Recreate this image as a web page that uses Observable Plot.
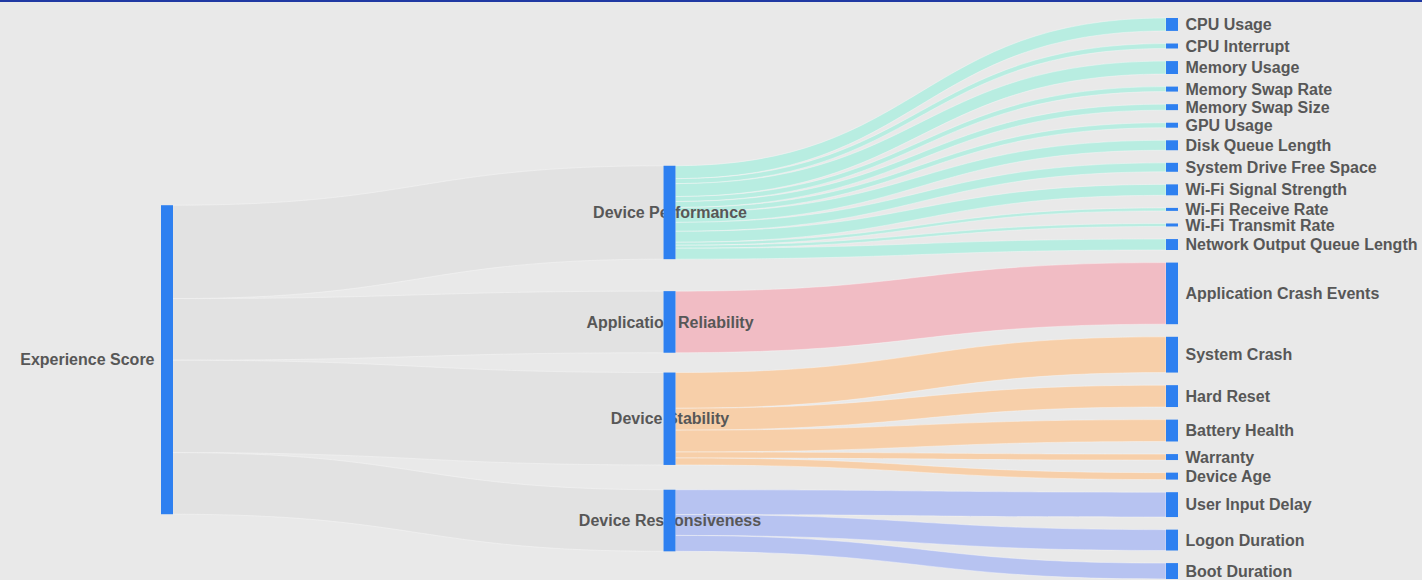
<!DOCTYPE html>
<html>
<head>
<meta charset="utf-8">
<script src="https://cdn.jsdelivr.net/npm/d3@7"></script>
<script src="https://cdn.jsdelivr.net/npm/@observablehq/plot@0.6"></script>
<style>
  html, body { margin: 0; padding: 0; background: #e9e9e9; overflow: hidden; }
  #topline { position: absolute; left: 0; top: 0; width: 1422px; height: 2px; background: #2039a3; z-index: 2; }
  #chart { position: absolute; left: 0; top: 0; }
</style>
</head>
<body>
<div id="topline"></div>
<div id="chart"></div>
<script>
// ---- data ----
const rootName = "Experience Score";
const categories = ["Device Performance", "Application Reliability", "Device Stability", "Device Responsiveness"];
const metricNames = [
  "CPU Usage", "CPU Interrupt", "Memory Usage", "Memory Swap Rate", "Memory Swap Size", "GPU Usage",
  "Disk Queue Length", "System Drive Free Space", "Wi-Fi Signal Strength", "Wi-Fi Receive Rate",
  "Wi-Fi Transmit Rate", "Network Output Queue Length",
  "Application Crash Events",
  "System Crash", "Hard Reset", "Battery Health", "Warranty", "Device Age",
  "User Input Delay", "Logon Duration", "Boot Duration"
];
const metricCategory = [
  "Device Performance", "Device Performance", "Device Performance", "Device Performance", "Device Performance", "Device Performance",
  "Device Performance", "Device Performance", "Device Performance", "Device Performance",
  "Device Performance", "Device Performance",
  "Application Reliability",
  "Device Stability", "Device Stability", "Device Stability", "Device Stability", "Device Stability",
  "Device Responsiveness", "Device Responsiveness", "Device Responsiveness"
];
const metricValues = [
  13, 5, 13, 5, 6, 5,
  10, 9, 11, 3,
  3, 11,
  62,
  36, 22, 22, 6, 7,
  25, 21, 16
];

// ---- graph ----
const nodes = [{name: rootName}, ...categories.map(name => ({name})), ...metricNames.map(name => ({name}))];
const links = [
  ...categories.map(c => ({
    source: rootName, target: c, cat: rootName,
    value: d3.sum(metricValues.filter((v, i) => metricCategory[i] === c))
  })),
  ...metricNames.map((m, i) => ({source: metricCategory[i], target: m, cat: metricCategory[i], value: metricValues[i]}))
];

// ---- sankey layout (port of d3-sankey relaxation, padding per column) ----
function sankeyLayout(nodes, links, {x0, x1, y0, y1, dx, pads, iterations}) {
  const pad = layer => pads[layer];
  const byName = new Map();
  nodes.forEach((n, i) => { n.index = i; n.sourceLinks = []; n.targetLinks = []; byName.set(n.name, n); });
  links.forEach((l, i) => {
    l.index = i; l.source = byName.get(l.source); l.target = byName.get(l.target);
    l.source.sourceLinks.push(l); l.target.targetLinks.push(l);
  });
  nodes.forEach(n => n.value = Math.max(d3.sum(n.sourceLinks, l => l.value), d3.sum(n.targetLinks, l => l.value)));
  let cur = nodes.filter(n => n.targetLinks.length === 0), depth = 0;
  while (cur.length) {
    const next = new Set();
    for (const n of cur) { n.depth = depth; for (const l of n.sourceLinks) next.add(l.target); }
    cur = [...next]; depth++;
  }
  const nLayers = depth;
  nodes.forEach(n => n.layer = n.sourceLinks.length ? n.depth : nLayers - 1);
  const columns = d3.range(nLayers).map(() => []);
  nodes.forEach(n => columns[n.layer].push(n));
  const kx = (x1 - x0 - dx) / (nLayers - 1);
  nodes.forEach(n => { n.x0 = x0 + n.layer * kx; n.x1 = n.x0 + dx; });
  const ky = d3.min(columns, (c, k) => (y1 - y0 - (c.length - 1) * pad(k)) / d3.sum(c, n => n.value));

  const byY = (a, b) => a.y0 - b.y0;
  const ascT = (a, b) => byY(a.target, b.target) || a.index - b.index;
  const ascS = (a, b) => byY(a.source, b.source) || a.index - b.index;
  function reorderLinks(col) { for (const n of col) { n.sourceLinks.sort(ascT); n.targetLinks.sort(ascS); } }
  function reorderNodeLinks(n) {
    for (const {source} of n.targetLinks) source.sourceLinks.sort(ascT);
    for (const {target} of n.sourceLinks) target.targetLinks.sort(ascS);
  }
  function targetTop(source, target) {
    const py = pad(target.layer);
    let y = source.y0 - (source.sourceLinks.length - 1) * py / 2;
    for (const {target: node, width} of source.sourceLinks) { if (node === target) break; y += width + py; }
    for (const {source: node, width} of target.targetLinks) { if (node === source) break; y -= width; }
    return y;
  }
  function sourceTop(source, target) {
    const py = pad(source.layer);
    let y = target.y0 - (target.targetLinks.length - 1) * py / 2;
    for (const {source: node, width} of target.targetLinks) { if (node === source) break; y += width + py; }
    for (const {target: node, width} of source.sourceLinks) { if (node === target) break; y -= width; }
    return y;
  }
  function topToBottom(col, y, i, a, py) {
    for (; i < col.length; ++i) { const n = col[i]; const d = (y - n.y0) * a; if (d > 1e-6) { n.y0 += d; n.y1 += d; } y = n.y1 + py; }
  }
  function bottomToTop(col, y, i, a, py) {
    for (; i >= 0; --i) { const n = col[i]; const d = (n.y1 - y) * a; if (d > 1e-6) { n.y0 -= d; n.y1 -= d; } y = n.y0 - py; }
  }
  function resolveCollisions(col, a, py) {
    const i = col.length >> 1, s = col[i];
    bottomToTop(col, s.y0 - py, i - 1, a, py);
    topToBottom(col, s.y1 + py, i + 1, a, py);
    bottomToTop(col, y1, col.length - 1, a, py);
    topToBottom(col, y0, 0, a, py);
  }
  function relaxLeftToRight(alpha, beta) {
    for (let i = 1; i < columns.length; ++i) {
      const col = columns[i];
      for (const t of col) {
        let y = 0, w = 0;
        for (const l of t.targetLinks) { const v = l.value * (t.layer - l.source.layer); y += targetTop(l.source, t) * v; w += v; }
        if (!(w > 0)) continue;
        const d = (y / w - t.y0) * alpha; t.y0 += d; t.y1 += d; reorderNodeLinks(t);
      }
      resolveCollisions(col, beta, pad(i));
    }
  }
  function relaxRightToLeft(alpha, beta) {
    for (let i = columns.length - 2; i >= 0; --i) {
      const col = columns[i];
      for (const s of col) {
        let y = 0, w = 0;
        for (const l of s.sourceLinks) { const v = l.value * (l.target.layer - s.layer); y += sourceTop(s, l.target) * v; w += v; }
        if (!(w > 0)) continue;
        const d = (y / w - s.y0) * alpha; s.y0 += d; s.y1 += d; reorderNodeLinks(s);
      }
      resolveCollisions(col, beta, pad(i));
    }
  }
  columns.forEach((c, k) => {
    const py = pad(k);
    let y = y0;
    for (const n of c) { n.y0 = y; n.y1 = y + n.value * ky; y = n.y1 + py; for (const l of n.sourceLinks) l.width = l.value * ky; }
    y = (y1 - y + py) / (c.length + 1);
    c.forEach((n, i) => { n.y0 += y * (i + 1); n.y1 += y * (i + 1); });
    reorderLinks(c);
  });
  for (let i = 0; i < iterations; ++i) {
    const alpha = Math.pow(0.99, i), beta = Math.max(1 - alpha, (i + 1) / iterations);
    relaxRightToLeft(alpha, beta);
    relaxLeftToRight(alpha, beta);
  }
  for (const n of nodes) {
    let a = n.y0, b = n.y0;
    for (const l of n.sourceLinks) { l.y0 = a + l.width / 2; a += l.width; }
    for (const l of n.targetLinks) { l.y1 = b + l.width / 2; b += l.width; }
  }
  return columns;
}

const W = 1422, H = 580;
const columns = sankeyLayout(nodes, links, {x0: 161, x1: 1178, y0: 18, y1: 579, dx: 12, pads: [12.6, 18, 12.6], iterations: 32});

const linkRows = links.flatMap(l => [
  {id: l.index, cat: l.cat, x: l.source.x1, top: l.y0 - l.width / 2, bottom: l.y0 + l.width / 2},
  {id: l.index, cat: l.cat, x: l.target.x0, top: l.y1 - l.width / 2, bottom: l.y1 + l.width / 2}
]);
const rootNodes = columns[0], midNodes = columns[1], leafNodes = columns[2];

const textStyle = {fontSize: 16, fontWeight: "bold", fill: "#575757"};

const chart = Plot.plot({
  width: W, height: H, margin: 0,
  style: {background: "transparent", fontFamily: "'Liberation Sans', Arial, sans-serif"},
  x: {domain: [0, W], range: [0, W], axis: null},
  y: {domain: [0, H], range: [0, H], axis: null},
  color: {
    type: "ordinal",
    domain: [rootName, ...categories],
    range: ["#e2e2e2", "#b8ede1", "#f1bcc4", "#f7cfa9", "#b7c3f1"]
  },
  marks: [
    Plot.areaY(linkRows, {x: "x", y1: "top", y2: "bottom", z: "id", fill: "cat", curve: "bump-x",
      stroke: "#f7f7f7", strokeWidth: 0.8, strokeOpacity: 0.55}),
    Plot.text(midNodes, {x: d => (d.x0 + d.x1) / 2, y: d => (d.y0 + d.y1) / 2, text: "name", textAnchor: "middle", ...textStyle}),
    Plot.rect(nodes, {x1: "x0", x2: "x1", y1: "y0", y2: "y1", fill: "#2e80f0"}),
    Plot.text(rootNodes, {x: d => d.x0 - 7, y: d => (d.y0 + d.y1) / 2, text: "name", textAnchor: "end", ...textStyle}),
    Plot.text(leafNodes, {x: d => d.x1 + 7, y: d => (d.y0 + d.y1) / 2, text: "name", textAnchor: "start", ...textStyle})
  ]
});
document.getElementById("chart").appendChild(chart);
</script>
</body>
</html>
